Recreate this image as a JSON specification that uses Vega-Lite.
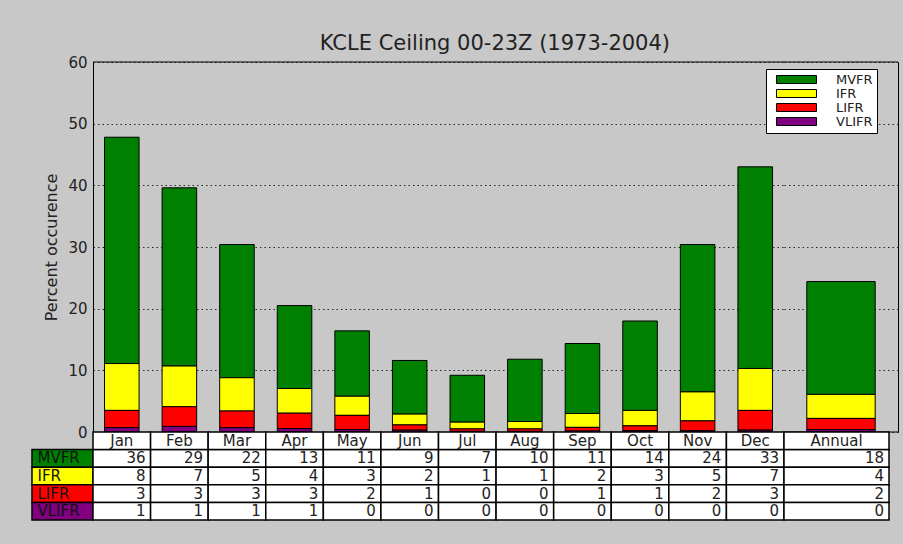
{
  "$schema": "https://vega.github.io/schema/vega-lite/v6.json",
  "background": "#c8c8c8",
  "padding": {"left": 31, "top": 32, "right": 6, "bottom": 23},
  "title": {"text": "KCLE Ceiling 00-23Z (1973-2004)", "fontSize": 21, "font": "DejaVu Sans", "fontWeight": "normal", "color": "#222", "baseline": "alphabetic", "offset": -15.5, "dx": 30, "anchor": "middle"},
  "datasets": {
    "d": [
      {"month": "Jan", "cat": "MVFR", "sev": 1, "pct": 36.7, "n": 36},
      {"month": "Jan", "cat": "IFR", "sev": 2, "pct": 7.6, "n": 8},
      {"month": "Jan", "cat": "LIFR", "sev": 3, "pct": 2.8, "n": 3},
      {"month": "Jan", "cat": "VLIFR", "sev": 4, "pct": 0.7, "n": 1},
      {"month": "Feb", "cat": "MVFR", "sev": 1, "pct": 28.9, "n": 29},
      {"month": "Feb", "cat": "IFR", "sev": 2, "pct": 6.6, "n": 7},
      {"month": "Feb", "cat": "LIFR", "sev": 3, "pct": 3.2, "n": 3},
      {"month": "Feb", "cat": "VLIFR", "sev": 4, "pct": 0.9, "n": 1},
      {"month": "Mar", "cat": "MVFR", "sev": 1, "pct": 21.6, "n": 22},
      {"month": "Mar", "cat": "IFR", "sev": 2, "pct": 5.4, "n": 5},
      {"month": "Mar", "cat": "LIFR", "sev": 3, "pct": 2.7, "n": 3},
      {"month": "Mar", "cat": "VLIFR", "sev": 4, "pct": 0.7, "n": 1},
      {"month": "Apr", "cat": "MVFR", "sev": 1, "pct": 13.45, "n": 13},
      {"month": "Apr", "cat": "IFR", "sev": 2, "pct": 4.0, "n": 4},
      {"month": "Apr", "cat": "LIFR", "sev": 3, "pct": 2.5, "n": 3},
      {"month": "Apr", "cat": "VLIFR", "sev": 4, "pct": 0.55, "n": 1},
      {"month": "May", "cat": "MVFR", "sev": 1, "pct": 10.6, "n": 11},
      {"month": "May", "cat": "IFR", "sev": 2, "pct": 3.1, "n": 3},
      {"month": "May", "cat": "LIFR", "sev": 3, "pct": 2.3, "n": 2},
      {"month": "May", "cat": "VLIFR", "sev": 4, "pct": 0.4, "n": 0},
      {"month": "Jun", "cat": "MVFR", "sev": 1, "pct": 8.7, "n": 9},
      {"month": "Jun", "cat": "IFR", "sev": 2, "pct": 1.75, "n": 2},
      {"month": "Jun", "cat": "LIFR", "sev": 3, "pct": 0.85, "n": 1},
      {"month": "Jun", "cat": "VLIFR", "sev": 4, "pct": 0.3, "n": 0},
      {"month": "Jul", "cat": "MVFR", "sev": 1, "pct": 7.6, "n": 7},
      {"month": "Jul", "cat": "IFR", "sev": 2, "pct": 1.1, "n": 1},
      {"month": "Jul", "cat": "LIFR", "sev": 3, "pct": 0.4, "n": 0},
      {"month": "Jul", "cat": "VLIFR", "sev": 4, "pct": 0.1, "n": 0},
      {"month": "Aug", "cat": "MVFR", "sev": 1, "pct": 10.1, "n": 10},
      {"month": "Aug", "cat": "IFR", "sev": 2, "pct": 1.2, "n": 1},
      {"month": "Aug", "cat": "LIFR", "sev": 3, "pct": 0.4, "n": 0},
      {"month": "Aug", "cat": "VLIFR", "sev": 4, "pct": 0.1, "n": 0},
      {"month": "Sep", "cat": "MVFR", "sev": 1, "pct": 11.35, "n": 11},
      {"month": "Sep", "cat": "IFR", "sev": 2, "pct": 2.25, "n": 2},
      {"month": "Sep", "cat": "LIFR", "sev": 3, "pct": 0.6, "n": 1},
      {"month": "Sep", "cat": "VLIFR", "sev": 4, "pct": 0.15, "n": 0},
      {"month": "Oct", "cat": "MVFR", "sev": 1, "pct": 14.5, "n": 14},
      {"month": "Oct", "cat": "IFR", "sev": 2, "pct": 2.5, "n": 3},
      {"month": "Oct", "cat": "LIFR", "sev": 3, "pct": 0.8, "n": 1},
      {"month": "Oct", "cat": "VLIFR", "sev": 4, "pct": 0.2, "n": 0},
      {"month": "Nov", "cat": "MVFR", "sev": 1, "pct": 23.9, "n": 24},
      {"month": "Nov", "cat": "IFR", "sev": 2, "pct": 4.7, "n": 5},
      {"month": "Nov", "cat": "LIFR", "sev": 3, "pct": 1.6, "n": 2},
      {"month": "Nov", "cat": "VLIFR", "sev": 4, "pct": 0.2, "n": 0},
      {"month": "Dec", "cat": "MVFR", "sev": 1, "pct": 32.7, "n": 33},
      {"month": "Dec", "cat": "IFR", "sev": 2, "pct": 6.8, "n": 7},
      {"month": "Dec", "cat": "LIFR", "sev": 3, "pct": 3.2, "n": 3},
      {"month": "Dec", "cat": "VLIFR", "sev": 4, "pct": 0.3, "n": 0},
      {"month": "Annual", "cat": "MVFR", "sev": 1, "pct": 18.3, "n": 18},
      {"month": "Annual", "cat": "IFR", "sev": 2, "pct": 3.9, "n": 4},
      {"month": "Annual", "cat": "LIFR", "sev": 3, "pct": 1.8, "n": 2},
      {"month": "Annual", "cat": "VLIFR", "sev": 4, "pct": 0.4, "n": 0}
    ]
  },
  "columns": 3,
  "spacing": 0,
  "bounds": "flush",
  "concat": [
    {
      "width": 61, "height": 370,
      "data": {"values": [{}]},
      "mark": {"type": "text", "text": ""},
      "encoding": {}
    },
    {
      "width": 691, "height": 370,
      "data": {"name": "d"},
      "transform": [{"filter": "datum.month != 'Annual'"}],
      "layer": [
        {
          "mark": {"type": "bar", "stroke": "black", "strokeWidth": 1},
          "encoding": {
            "x": {"field": "month", "type": "nominal", "sort": ["Jan","Feb","Mar","Apr","May","Jun","Jul","Aug","Sep","Oct","Nov","Dec"], "axis": null, "scale": {"paddingInner": 0.4, "paddingOuter": 0.2}},
            "y": {"field": "pct", "type": "quantitative", "stack": "zero", "scale": {"domain": [0, 60], "nice": false},
                  "axis": {"title": "Percent occurence", "values": [0,10,20,30,40,50,60], "grid": true, "gridDash": [1.5, 3], "gridColor": "#000", "gridOpacity": 0.8, "ticks": false, "domain": true, "domainColor": "#000", "labelFontSize": 15, "labelColor": "#222", "labelPadding": 6, "titleFontSize": 16, "titleFontWeight": "normal", "titleColor": "#222", "titlePadding": 8}},
            "color": {"field": "cat", "type": "nominal", "scale": {"domain": ["MVFR","IFR","LIFR","VLIFR"], "range": ["#008000","#ffff00","#ff0000","#800080"]}},
            "order": {"field": "sev", "type": "quantitative", "sort": "descending"}
          }
        },
        {
          "data": {"values": [{}]},
          "mark": {"type": "rule", "color": "black", "strokeWidth": 1},
          "encoding": {"y": {"datum": 60}}
        }
      ]
    },
    {
      "width": 114, "height": 370,
      "data": {"name": "d"},
      "transform": [{"filter": "datum.month == 'Annual'"}],
      "layer": [
        {
          "mark": {"type": "bar", "stroke": "black", "strokeWidth": 1},
          "encoding": {
            "x": {"field": "month", "type": "nominal", "axis": null, "scale": {"paddingInner": 0.4, "paddingOuter": 0.2}},
            "y": {"field": "pct", "type": "quantitative", "stack": "zero", "scale": {"domain": [0, 60], "nice": false},
                  "axis": {"orient": "right", "title": null, "labels": false, "values": [0,10,20,30,40,50,60], "grid": true, "gridDash": [1.5, 3], "gridColor": "#000", "gridOpacity": 0.8, "ticks": false, "domain": true, "domainColor": "#000"}},
            "color": {"field": "cat", "type": "nominal", "scale": {"domain": ["MVFR","IFR","LIFR","VLIFR"], "range": ["#008000","#ffff00","#ff0000","#800080"]}},
            "order": {"field": "sev", "type": "quantitative", "sort": "descending"}
          }
        },
        {
          "data": {"values": [{}]},
          "mark": {"type": "rule", "color": "black", "strokeWidth": 1},
          "encoding": {"y": {"datum": 60}}
        },
        {
          "data": {"values": [{}]},
          "mark": {"type": "rule", "color": "black", "strokeWidth": 1},
          "encoding": {"y": {"datum": 0}}
        }
      ]
    },
    {
      "width": 61, "height": 88,
      "data": {"name": "d"},
      "transform": [{"filter": "datum.month == 'Jan'"}],
      "encoding": {
        "y": {"field": "cat", "type": "nominal", "scale": {"domain": ["Month","MVFR","IFR","LIFR","VLIFR"], "paddingInner": 0, "paddingOuter": 0}, "axis": null}
      },
      "layer": [
        {
          "mark": {"type": "rect", "stroke": "black", "strokeWidth": 1.5},
          "encoding": {
            "color": {"field": "cat", "type": "nominal", "scale": {"domain": ["MVFR","IFR","LIFR","VLIFR"], "range": ["#008000","#ffff00","#ff0000","#800080"]}}
          }
        },
        {
          "mark": {"type": "text", "align": "left", "dx": -25, "fontSize": 15, "color": "#111"},
          "encoding": {"text": {"field": "cat"}}
        }
      ]
    },
    {
      "width": 691, "height": 88,
      "data": {"name": "d"},
      "transform": [{"filter": "datum.month != 'Annual'"}],
      "encoding": {
        "x": {"field": "month", "type": "nominal", "sort": ["Jan","Feb","Mar","Apr","May","Jun","Jul","Aug","Sep","Oct","Nov","Dec"], "axis": null, "scale": {"paddingInner": 0, "paddingOuter": 0}}
      },
      "layer": [
        {
          "mark": {"type": "rect", "fill": "white", "stroke": "black", "strokeWidth": 1.5},
          "encoding": {"y": {"field": "cat", "type": "nominal", "scale": {"domain": ["Month","MVFR","IFR","LIFR","VLIFR"], "paddingInner": 0, "paddingOuter": 0}, "axis": null}}
        },
        {
          "transform": [{"filter": "datum.cat == 'MVFR'"}],
          "mark": {"type": "rect", "fill": "white", "stroke": "black", "strokeWidth": 1.5},
          "encoding": {"y": {"datum": "Month", "type": "nominal"}}
        },
        {
          "mark": {"type": "text", "align": "right", "dx": -5, "fontSize": 15, "color": "#222"},
          "encoding": {
            "x": {"field": "month", "type": "nominal", "sort": ["Jan","Feb","Mar","Apr","May","Jun","Jul","Aug","Sep","Oct","Nov","Dec"], "bandPosition": 1},
            "y": {"field": "cat", "type": "nominal"},
            "text": {"field": "n", "type": "quantitative"}
          }
        },
        {
          "transform": [{"filter": "datum.cat == 'MVFR'"}],
          "mark": {"type": "text", "fontSize": 15, "color": "#222"},
          "encoding": {"y": {"datum": "Month", "type": "nominal"}, "text": {"field": "month"}}
        }
      ]
    },
    {
      "width": 105, "height": 88,
      "data": {"name": "d"},
      "transform": [{"filter": "datum.month == 'Annual'"}],
      "encoding": {
        "x": {"field": "month", "type": "nominal", "axis": null, "scale": {"paddingInner": 0, "paddingOuter": 0}}
      },
      "layer": [
        {
          "mark": {"type": "rect", "fill": "white", "stroke": "black", "strokeWidth": 1.5},
          "encoding": {"y": {"field": "cat", "type": "nominal", "scale": {"domain": ["Month","MVFR","IFR","LIFR","VLIFR"], "paddingInner": 0, "paddingOuter": 0}, "axis": null}}
        },
        {
          "transform": [{"filter": "datum.cat == 'MVFR'"}],
          "mark": {"type": "rect", "fill": "white", "stroke": "black", "strokeWidth": 1.5},
          "encoding": {"y": {"datum": "Month", "type": "nominal"}}
        },
        {
          "mark": {"type": "text", "align": "right", "dx": -5, "fontSize": 15, "color": "#222"},
          "encoding": {
            "x": {"field": "month", "type": "nominal", "bandPosition": 1},
            "y": {"field": "cat", "type": "nominal"},
            "text": {"field": "n", "type": "quantitative"}
          }
        },
        {
          "transform": [{"filter": "datum.cat == 'MVFR'"}],
          "mark": {"type": "text", "fontSize": 15, "color": "#222"},
          "encoding": {"y": {"datum": "Month", "type": "nominal"}, "text": {"field": "month"}}
        }
      ]
    }
  ],
  "config": {
    "font": "DejaVu Sans",
    "view": {"stroke": null},
    "legend": {
      "orient": "none", "legendX": 734, "legendY": 7,
      "title": null,
      "fillColor": "white", "strokeColor": "black", "padding": 4, "symbolOffset": 4,
      "symbolType": "M-1,-1H9V1H-1Z", "symbolSize": 64,
      "symbolStrokeColor": "black", "symbolStrokeWidth": 1,
      "labelOffset": 49, "labelFontSize": 13, "labelColor": "#222", "rowPadding": 0
    }
  }
}
